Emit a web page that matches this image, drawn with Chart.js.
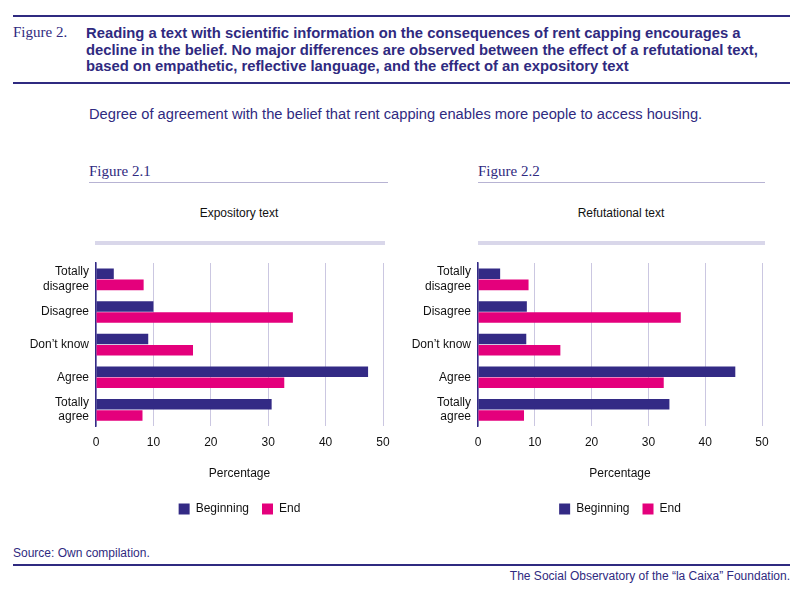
<!DOCTYPE html>
<html>
<head>
<meta charset="utf-8">
<script src="https://cdn.jsdelivr.net/npm/chart.js@4.4.1/dist/chart.umd.min.js"></script>
<style>
  body { margin: 0; background: #fff; font-family: 'Liberation Sans', Arial, sans-serif; }
  #page { position: relative; width: 800px; height: 591px; overflow: hidden; }
  .abs { position: absolute; }
  .rule { position: absolute; background: #2f2a80; }
  .fig { font-family: 'Liberation Serif', serif; color: #2f2a80; font-size: 15px; }
  .heading { color: #2f2a80; font-weight: bold; font-size: 14.8px; line-height: 16.5px; }
  .sub { color: #2f2a80; font-size: 14.7px; }
  .panelTitle { color: #111; font-size: 12px; text-align: center; }
  .note { color: #2f2a80; font-size: 12px; }
</style>
</head>
<body>
<div id="page">
  <div class="rule" style="left:13px; top:15px; width:777px; height:2px;"></div>
  <div class="abs fig" style="left:13px; top:24px;">Figure 2.</div>
  <div class="abs heading" style="left:86px; top:25px;">Reading a text with scientific information on the consequences of rent capping encourages a<br>decline in the belief. No major differences are observed between the effect of a refutational text,<br>based on empathetic, reflective language, and the effect of an expository text</div>
  <div class="rule" style="left:13px; top:82px; width:777px; height:2px;"></div>
  <div class="abs sub" style="left:89px; top:106px;">Degree of agreement with the belief that rent capping enables more people to access housing.</div>

  <div class="abs fig" style="left:89px; top:163px;">Figure 2.1</div>
  <div class="abs" style="left:89px; top:182px; width:299px; height:1px; background:#b7b3d3;"></div>
  <div class="abs panelTitle" style="left:89px; width:300px; top:206px;">Expository text</div>
  <div class="abs" style="left:95px; top:241px; width:290px; height:4px; background:#d9d7ea;"></div>

  <div class="abs fig" style="left:478px; top:163px;">Figure 2.2</div>
  <div class="abs" style="left:478px; top:182px; width:287px; height:1px; background:#b7b3d3;"></div>
  <div class="abs panelTitle" style="left:476px; width:290px; top:206px;">Refutational text</div>
  <div class="abs" style="left:478px; top:241px; width:287px; height:4px; background:#d9d7ea;"></div>

  <div class="abs" style="left:0px; top:255px; width:400px; height:274px;"><canvas id="chartLeft"></canvas></div>
  <div class="abs" style="left:382px; top:255px; width:400px; height:274px;"><canvas id="chartRight"></canvas></div>

  <div class="abs note" style="left:13px; top:546px;">Source: Own compilation.</div>
  <div class="rule" style="left:13px; top:564px; width:777px; height:2px;"></div>
  <div class="abs note" style="right:10px; top:569px;">The Social Observatory of the “la Caixa” Foundation.</div>
</div>

<script>
// Data
const categories = [['Totally', 'disagree'], 'Disagree', 'Don\u2019t know', 'Agree', ['Totally', 'agree']];
const seriesNames = ['Beginning', 'End'];
const xTicks = [0, 10, 20, 30, 40, 50];

const expositoryBeginning = [3.1, 10.0, 9.1, 47.4, 30.6];
const expositoryEnd = [8.3, 34.3, 16.9, 32.8, 8.1];
const refutationalBeginning = [3.9, 8.6, 8.5, 45.3, 33.7];
const refutationalEnd = [8.9, 35.7, 14.5, 32.7, 8.1];

const NAVY = '#332a85';
const MAGENTA = '#e4007c';

Chart.defaults.font.family = "'Liberation Sans', Arial, sans-serif";
Chart.defaults.font.size = 12;
Chart.defaults.color = '#111';

function makeChart(canvasId, beginning, end, rightPad) {
    const ctx = document.getElementById(canvasId).getContext('2d');
    return new Chart(ctx, {
        type: 'bar',
        data: {
            labels: categories,
            datasets: [
                {
                    label: seriesNames[0],
                    data: beginning,
                    backgroundColor: NAVY,
                    borderWidth: 0,
                    barPercentage: 0.95,
                    categoryPercentage: 0.68
                },
                {
                    label: seriesNames[1],
                    data: end,
                    backgroundColor: MAGENTA,
                    borderWidth: 0,
                    barPercentage: 0.95,
                    categoryPercentage: 0.68
                }
            ]
        },
        options: {
            indexAxis: 'y',
            responsive: true,
            maintainAspectRatio: false,
            animation: false,
            layout: {
                padding: { top: 8, right: rightPad, bottom: 4, left: 0 }
            },
            plugins: {
                tooltip: { enabled: false },
                legend: {
                    position: 'bottom',
                    fullSize: false,
                    labels: {
                        boxWidth: 11,
                        boxHeight: 11,
                        padding: 13,
                        color: '#111',
                        font: { size: 12 }
                    }
                }
            },
            scales: {
                x: {
                    min: 0,
                    max: 50,
                    afterBuildTicks: (scale) => {
                        scale.ticks = xTicks.map(v => ({ value: v }));
                    },
                    grid: {
                        color: '#cbc7e1',
                        lineWidth: 1,
                        drawTicks: false
                    },
                    border: { display: false },
                    ticks: {
                        padding: 9,
                        color: '#111',
                        font: { size: 12 }
                    },
                    title: {
                        display: true,
                        text: 'Percentage',
                        color: '#111',
                        font: { size: 12 },
                        padding: { top: 8, bottom: 9 }
                    }
                },
                y: {
                    afterFit: (scale) => {
                        scale.width = 96;
                        scale.paddingTop = 0;
                        scale.paddingBottom = 0;
                    },
                    grid: { display: false, drawTicks: false },
                    border: { display: true, color: NAVY, width: 1.5 },
                    ticks: {
                        autoSkip: false,
                        padding: 7,
                        color: '#111',
                        font: { size: 12 }
                    }
                }
            }
        }
    });
}

makeChart('chartLeft', expositoryBeginning, expositoryEnd, 17);
makeChart('chartRight', refutationalBeginning, refutationalEnd, 20);
</script>
</body>
</html>
